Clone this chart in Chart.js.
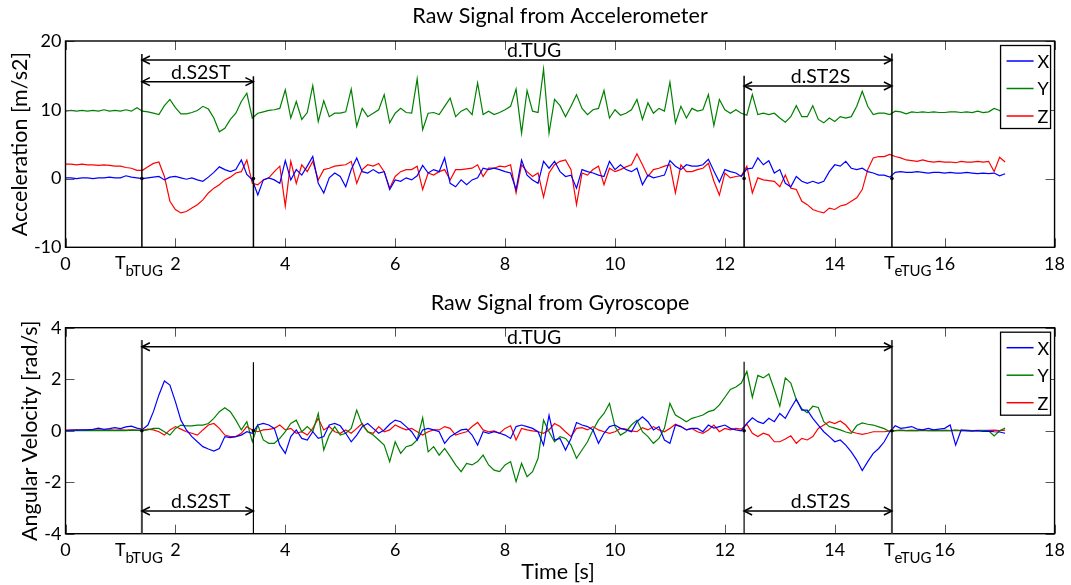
<!DOCTYPE html>
<html>
<head>
<meta charset="utf-8">
<script src="https://cdn.jsdelivr.net/npm/chart.js@4.4.1/dist/chart.umd.min.js"></script>
<style>
  html, body { margin: 0; padding: 0; background: #fff; }
  #wrap { position: relative; width: 1071px; height: 585px; }
  #accChart { position: absolute; left: 0; top: 0; }
  #gyroChart { position: absolute; left: 0; top: 290px; }
</style>
</head>
<body>
<div id="wrap">
  <canvas id="accChart" width="1071" height="290"></canvas>
  <canvas id="gyroChart" width="1071" height="295"></canvas>
</div>
<script>
var FONT = 'Lato, "DejaVu Sans", sans-serif';

// sample clock of the recordings (s)
var sampleStep = 0.1;
var axisNames = ['X', 'Y', 'Z'];
var axisColors = ['#0000ff', '#008000', '#ff0000'];

// event times (s)
var tBeginTUG = 1.39;
var tEndS2ST = 3.42;
var tStartST2S = 12.35;
var tEndTUG = 15.04;

// accelerometer [m/s2], one value per 0.1 s, rows of one second
var accX = [
  0.1, 0.1, 0.0, 0.1, 0.1, 0.0, 0.1, 0.1, 0.2, 0.1,
  0.1, 0.4, 0.2, 0.1, 0.0, 0.1, 0.2, 0.3, -0.2, 0.2,
  0.3, 0.1, -0.1, 0.1, -0.2, -0.4, 0.2, 0.9, 1.7, 1.3,
  1.0, 1.3, 2.7, 0.6, -0.2, -2.4, -0.2, 0.1, -0.2, -0.7,
  2.6, -0.2, 1.3, 0.5, 1.8, 3.2, -0.7, -2.1, 0.1, 0.8,
  0.3, -1.2, 1.3, 3.0, 1.0, 0.8, 1.3, 0.8, 1.0, -1.6,
  -0.2, -0.4, 0.1, -0.2, 0.4, 1.9, 0.8, 1.3, 1.0, 3.0,
  -0.7, -1.2, -0.2, -0.9, -0.2, 0.1, 1.5, 1.3, 1.5, 1.3,
  1.0, 0.8, -1.6, 2.7, 0.5, -0.2, -0.7, 2.5, 1.5, 2.5,
  1.0, 0.3, 0.5, -1.4, 1.3, 1.0, 0.8, 0.5, 0.3, 2.5,
  1.3, 2.0, 1.3, 1.0, 1.5, -0.9, 0.5, 0.1, 0.3, 0.5,
  2.6, 1.8, 1.3, 2.0, 1.8, 1.8, 2.0, 2.8, 1.1, -0.5,
  1.3, 1.0, 0.8, 0.3, 1.4, 1.5, 3.0, 2.0, 2.6, 0.8,
  1.3, -0.7, -1.2, 0.3, -0.4, -0.7, -0.4, -0.7, -0.4, 1.0,
  2.0, 1.8, 2.5, 1.5, 1.3, 1.5, 1.0, 0.8, 0.5, 0.5,
  0.2, 0.9, 1.0, 0.9, 0.9, 1.0, 0.9, 0.8, 0.9, 0.9,
  0.8, 0.9, 0.8, 0.8, 0.9, 0.8, 0.7, 0.8, 0.7, 0.8,
  0.4, 0.7
];
var accY = [
  9.8, 9.9, 9.8, 9.9, 9.8, 9.9, 9.8, 10.0, 9.8, 9.9,
  9.8, 10.0, 9.8, 10.3, 9.8, 9.7, 9.5, 9.3, 10.6, 11.5,
  10.3, 9.4, 9.4, 9.6, 9.9, 10.5, 10.1, 8.8, 6.8, 7.3,
  8.6, 9.5, 11.2, 12.4, 8.8, 9.5, 9.7, 9.9, 10.0, 10.2,
  12.9, 8.8, 11.2, 8.6, 9.6, 13.5, 8.3, 11.3, 9.0, 9.5,
  9.5, 9.7, 13.0, 7.6, 10.2, 9.0, 9.5, 10.0, 12.2, 8.1,
  9.5, 10.2, 9.6, 9.5, 14.5, 7.1, 9.5, 9.6, 9.3, 10.5,
  11.7, 9.0, 9.8, 10.2, 9.3, 13.9, 9.3, 9.8, 9.3, 9.6,
  10.0, 10.5, 13.0, 6.6, 12.8, 9.8, 9.6, 15.9, 6.6, 11.5,
  10.6, 9.0, 10.5, 12.2, 10.2, 9.3, 10.0, 10.2, 12.8, 8.8,
  10.0, 9.2, 9.5, 10.0, 11.5, 8.6, 11.0, 9.5, 10.2, 9.8,
  14.0, 8.1, 10.5, 8.8, 10.2, 9.8, 10.0, 12.2, 7.7, 11.5,
  10.0, 9.5, 10.0, 9.5, 9.2, 12.2, 9.3, 9.5, 9.3, 9.5,
  8.8, 8.2, 9.0, 10.6, 9.0, 9.0, 10.6, 8.6, 8.1, 8.8,
  8.3, 9.0, 8.8, 9.0, 10.5, 12.7, 10.5, 9.3, 9.5, 9.5,
  9.3, 9.8, 9.7, 9.4, 9.7, 9.6, 9.7, 9.6, 9.7, 9.6,
  9.6, 9.7, 9.7, 9.6, 9.7, 9.6, 9.8, 9.6, 9.7, 10.2,
  9.9, 9.2
];
var accZ = [
  2.1, 2.1, 2.0, 2.1, 2.0, 2.0, 1.9, 2.0, 1.9, 1.8,
  1.8, 1.6, 1.5, 1.2, 1.2, 1.7, 2.2, 2.4, 0.3, -3.3,
  -4.5, -5.0, -4.8, -4.3, -3.8, -3.1, -2.1, -1.4, -0.9, -0.2,
  0.2, 0.8, 1.0, 2.7, -0.7, -0.9, -0.2, 0.1, 1.0, 1.8,
  -4.0, 2.5, -0.7, 2.0, 1.0, 2.5, -0.2, 1.3, 1.5, 1.8,
  1.9, 2.0, 2.5, -0.7, 1.3, 2.0, 1.8, 2.2, 1.0, -1.4,
  0.3, 1.0, 1.3, 1.3, 1.8, -1.6, 0.8, 0.5, 1.0, 1.3,
  -0.2, 1.3, 1.3, 1.4, 1.5, 2.0, 0.3, 1.5, 1.5, 1.8,
  1.7, 2.0, -2.1, 2.0, 1.0, 0.3, 0.8, -2.7, 0.8, 2.0,
  2.5, 2.7, 1.3, -3.8, 0.8, 0.5, 1.3, 1.8, -0.9, 1.5,
  1.0, 1.3, 1.7, 2.0, 3.6, 2.0, 0.3, 1.3, 1.5, 1.8,
  2.0, -2.1, 2.0, 1.0, 1.0, 1.3, 1.5, 2.2, -0.4, -2.4,
  0.8, 0.1, 0.3, 0.4, 1.8, -2.1, 0.1, -0.2, -0.3, -0.4,
  -1.2, 0.5, -1.4, -1.6, -3.3, -3.8, -4.5, -4.8, -5.0, -4.3,
  -4.5, -4.0, -3.8, -3.3, -2.8, -1.6, 1.3, 3.0, 3.2, 3.2,
  3.5, 3.2, 3.0, 2.7, 2.6, 2.5, 2.7, 2.5, 2.4, 2.5,
  2.4, 2.4, 2.3, 2.5, 2.4, 2.4, 2.5, 2.4, 2.5, 1.0,
  3.1, 2.4
];

// gyroscope [rad/s], same clock
var gyroX = [
  0.0, 0.02, 0.02, 0.03, 0.03, 0.05, 0.1, 0.05, 0.08, 0.12,
  0.08, 0.15, 0.18, 0.1, 0.05, 0.22, 0.74, 1.39, 1.93, 1.77,
  1.13, 0.41, 0.03, -0.23, -0.43, -0.62, -0.71, -0.79, -0.69, -0.23,
  -0.27, -0.23, -0.17, -0.04, -0.1, 0.22, 0.28, 0.22, 0.09, -0.56,
  -0.88, -0.23, 0.03, -0.3, -0.36, -0.04, -0.3, -0.23, 0.22, 0.28,
  0.19, -0.1, -0.43, -0.17, 0.16, 0.28, 0.09, -0.1, 0.03, 0.25,
  0.41, 0.35, 0.16, -0.04, -0.36, 0.03, 0.09, 0.03, -0.04, -0.49,
  -0.23, -0.1, 0.03, 0.06, -0.17, -0.56, -0.04, -0.1, -0.04, -0.1,
  -0.17, -0.3, 0.16, 0.22, 0.16, 0.09, -0.04, -0.56, 0.6, -0.36,
  -0.3, -0.75, -0.3, 0.32, 0.22, 0.16, 0.03, -0.49, -0.1, 0.16,
  0.22, 0.09, 0.03, -0.04, 0.35, 0.54, 0.35, 0.03, 0.16, -0.36,
  -0.49, 0.22, 0.16, 0.03, 0.09, 0.09, -0.04, 0.22, 0.1, 0.16,
  0.22, 0.09, 0.03, -0.01, 0.28, 0.5, 0.35, 0.28, 0.48, 0.35,
  0.67, 0.48, 0.87, 1.22, 0.8, 0.8, 0.48, 0.22, -0.04, -0.23,
  -0.43, -0.36, -0.56, -0.82, -1.14, -1.55, -1.2, -0.88, -0.69, -0.43,
  -0.04, 0.19, 0.09, 0.12, 0.16, 0.06, 0.03, 0.09, 0.03, 0.06,
  0.09, 0.22, -0.56, 0.03, 0.0, -0.02, 0.0, -0.03, -0.02, -0.04,
  -0.05, -0.1
];
var gyroY = [
  0.0, 0.0, 0.01, 0.0, 0.01, 0.0, 0.01, 0.0, 0.01, 0.0,
  0.01, 0.0, 0.02, 0.01, 0.0, 0.03, 0.09, 0.09, -0.04, -0.17,
  0.09, 0.22, 0.19, 0.19, 0.22, 0.22, 0.28, 0.48, 0.74, 0.89,
  0.74, 0.41, 0.03, 0.35, -0.43, 0.22, -0.36, -0.49, -0.49, -0.3,
  -0.04, 0.28, 0.41, -0.04, 0.16, -0.04, 0.67, -0.75, -0.17, 0.16,
  -0.17, -0.1, 0.09, 0.8, 0.22, -0.04, -0.17, -0.36, -0.56, -1.2,
  -0.43, -0.88, -0.62, -0.56, -0.36, 0.5, -0.82, -0.62, -0.95, -0.69,
  -1.0, -1.33, -1.59, -1.27, -1.33, -1.2, -0.95, -1.33, -1.53, -1.59,
  -1.33, -1.2, -1.98, -1.27, -1.79, -1.59, -1.07, 0.41, -0.04, -0.43,
  -0.23, -0.3, -0.56, -1.07, -0.75, -0.43, 0.03, 0.41, 0.67, 1.06,
  0.16, -0.17, -0.04, 0.22, 0.41, -0.04, -0.23, -0.49, -0.3, 0.09,
  1.06, 0.61, 0.48, 0.35, 0.48, 0.54, 0.61, 0.74, 0.8, 1.0,
  1.3, 1.6, 1.7, 1.85, 2.3, 1.3, 2.15, 2.05, 2.2, 1.6,
  0.95, 2.05, 1.85, 1.2, 0.85, 0.7, 0.95, 0.9, 0.35, 0.16,
  0.1, 0.03, -0.05, -0.1, 0.2, 0.3, 0.25, 0.22, 0.15, 0.08,
  -0.04, 0.0, 0.02, 0.0, 0.01, 0.0, 0.02, 0.0, 0.01, 0.0,
  0.01, 0.0, 0.02, 0.0, 0.01, 0.0, 0.0, 0.01, 0.0, -0.2,
  0.0, 0.1
];
var gyroZ = [
  0.02, 0.02, 0.03, 0.02, 0.03, 0.02, 0.03, 0.02, 0.03, 0.02,
  0.03, 0.02, 0.03, 0.02, 0.01, 0.06, 0.03, -0.04, -0.17, 0.03,
  0.16, 0.06, -0.04, -0.1, -0.17, 0.03, 0.22, 0.28, 0.09, -0.17,
  -0.23, -0.23, -0.1, 0.16, 0.03, -0.04, 0.03, 0.05, 0.09, 0.22,
  0.03, 0.09, -0.1, -0.04, -0.17, 0.09, 0.48, 0.03, 0.16, -0.04,
  -0.1, 0.03, -0.1, 0.09, 0.28, -0.04, -0.1, 0.16, -0.04, 0.03,
  0.22, 0.12, 0.03, 0.09, -0.04, -0.17, -0.04, 0.03, 0.03, 0.16,
  0.09, -0.17, -0.1, -0.04, 0.16, 0.32, 0.03, -0.04, -0.01, -0.1,
  0.09, 0.19, -0.36, 0.09, 0.03, -0.01, -0.04, -0.1, 0.03, 0.28,
  0.16, -0.04, -0.23, 0.09, 0.12, 0.03, 0.16, 0.03, -0.04, -0.1,
  -0.04, 0.09, 0.06, -0.01, -0.04, 0.12, 0.03, 0.16, 0.03, -0.04,
  0.09, 0.25, 0.16, 0.03, 0.09, -0.04, -0.1, 0.03, 0.22, -0.04,
  0.09, 0.03, 0.09, 0.06, 0.25, -0.1, -0.23, -0.1, -0.17, -0.43,
  -0.43, -0.32, -0.2, -0.49, -0.3, -0.36, -0.23, 0.09, 0.22, 0.35,
  0.28, 0.38, 0.22, -0.04, -0.1, -0.14, -0.1, -0.04, -0.04, -0.04,
  -0.01, 0.0, 0.01, 0.0, 0.01, 0.0, 0.01, 0.0, 0.01, 0.0,
  0.01, 0.0, 0.01, 0.0, 0.01, 0.0, 0.01, 0.0, 0.01, 0.02,
  0.0, 0.02
];

function toPoints(values) {
  return values.map(function (v, i) { return { x: +(i * sampleStep).toFixed(2), y: v }; });
}

function line(ctx, x1, y1, x2, y2) {
  ctx.beginPath(); ctx.moveTo(x1, y1); ctx.lineTo(x2, y2); ctx.stroke();
}

function arrowHead(ctx, x, y, dir) {
  ctx.beginPath();
  ctx.moveTo(x - dir * 8, y - 4);
  ctx.lineTo(x, y);
  ctx.lineTo(x - dir * 8, y + 4);
  ctx.stroke();
}

// frame, inner ticks, event lines, arrows, legend and axis titles
var tugMarks = {
  id: 'tugMarks',
  afterDraw: function (chart, args, o) {
    var ctx = chart.ctx, a = chart.chartArea;
    var xs = chart.scales.x, ys = chart.scales.y;
    ctx.save();

    ctx.strokeStyle = '#555'; ctx.lineWidth = 1;
    xs.ticks.forEach(function (t) {
      var px = Math.round(xs.getPixelForValue(t.value)) + 0.5;
      line(ctx, px, a.bottom, px, a.bottom - 9);
      line(ctx, px, a.top, px, a.top + 9);
    });
    ys.ticks.forEach(function (t) {
      var py = Math.round(ys.getPixelForValue(t.value)) + 0.5;
      line(ctx, a.left, py, a.left + 9, py);
      line(ctx, a.right, py, a.right - 9, py);
    });
    ctx.strokeStyle = '#000'; ctx.lineWidth = 1.4;
    ctx.strokeRect(a.left, a.top, a.right - a.left, a.bottom - a.top);

    o.lines.forEach(function (l) {
      var px = xs.getPixelForValue(l.t);
      ctx.strokeStyle = l.color || '#000'; ctx.lineWidth = l.width || 1.5;
      line(ctx, px, ys.getPixelForValue(l.top), px, a.bottom);
    });

    ctx.strokeStyle = '#000'; ctx.fillStyle = '#000'; ctx.lineWidth = 1.5;
    ctx.font = '19.5px ' + FONT; ctx.textAlign = 'center'; ctx.textBaseline = 'alphabetic';
    o.arrows.forEach(function (ar) {
      var x1 = xs.getPixelForValue(ar.from), x2 = xs.getPixelForValue(ar.to);
      var py = ys.getPixelForValue(ar.y);
      line(ctx, x1, py, x2, py);
      arrowHead(ctx, x1, py, -1);
      arrowHead(ctx, x2, py, 1);
      ctx.fillText(ar.text, xs.getPixelForValue(ar.labelAt), py - 3);
    });

    o.dots.forEach(function (t) {
      ctx.beginPath();
      ctx.arc(xs.getPixelForValue(t), ys.getPixelForValue(0), 1.8, 0, Math.PI * 2);
      ctx.fill();
    });

    // T_bTUG / T_eTUG under the x axis
    ctx.textAlign = 'left';
    o.events.forEach(function (ev) {
      var px = xs.getPixelForValue(ev.t) + ev.dx;
      ctx.font = '18px ' + FONT;
      ctx.fillText('T', px, a.bottom + 22);
      var w = ctx.measureText('T').width;
      ctx.font = '15px ' + FONT;
      ctx.fillText(ev.sub, px + w, a.bottom + 29);
    });

    // legend box
    var bx = a.right - 54, by = a.top + 4.5, bw = 50, bh = 83;
    ctx.fillStyle = '#fff'; ctx.fillRect(bx, by, bw, bh);
    ctx.strokeStyle = '#000'; ctx.lineWidth = 1.3; ctx.strokeRect(bx, by, bw, bh);
    ctx.font = '18px ' + FONT; ctx.textBaseline = 'middle';
    chart.data.datasets.forEach(function (ds, i) {
      var ly = by + 15.5 + i * 27.5;
      ctx.strokeStyle = ds.borderColor; ctx.lineWidth = 1.5;
      line(ctx, bx + 6, ly, bx + 33, ly);
      ctx.fillStyle = '#000';
      ctx.fillText(ds.label, bx + 37, ly + 1);
    });

    // axis titles
    ctx.font = '21.5px ' + FONT; ctx.textAlign = 'center'; ctx.fillStyle = '#000';
    ctx.save();
    ctx.translate(o.yTitleX, (a.top + a.bottom) / 2);
    ctx.rotate(-Math.PI / 2);
    ctx.fillText(o.yTitle, 0, 0);
    ctx.restore();
    if (o.xTitle) ctx.fillText(o.xTitle, (a.left + a.right) / 2 - 2, a.bottom + 38);

    ctx.restore();
  }
};

function makeChart(id, cfg) {
  var datasets = cfg.series.map(function (vals, i) {
    return {
      label: axisNames[i], data: toPoints(vals),
      borderColor: axisColors[i], borderWidth: 1.2,
      pointRadius: 0, tension: 0, fill: false
    };
  });
  return new Chart(document.getElementById(id), {
    type: 'line',
    data: { datasets: datasets },
    options: {
      responsive: false, animation: false, devicePixelRatio: 1,
      layout: { padding: { left: 0, right: 15, top: 0, bottom: 0 } },
      plugins: {
        legend: { display: false },
        tooltip: { enabled: false },
        title: {
          display: true, fullSize: false, text: cfg.title, color: '#000',
          font: { family: FONT, size: 21.5, weight: 'normal' },
          padding: cfg.titlePad
        },
        tugMarks: cfg.marks
      },
      scales: {
        x: {
          type: 'linear', min: 0, max: 18,
          ticks: { stepSize: 2, color: '#000', font: { family: FONT, size: 18 }, padding: 6, maxRotation: 0 },
          grid: { display: false, drawTicks: false },
          border: { display: false },
          afterFit: function (s) { s.height = cfg.xAxisHeight; }
        },
        y: {
          min: cfg.yMin, max: cfg.yMax,
          ticks: { stepSize: cfg.yStep, color: '#000', font: { family: FONT, size: 18 }, padding: 4 },
          grid: { display: false, drawTicks: false },
          border: { display: false },
          afterFit: function (s) { s.width = 65.5; }
        }
      }
    },
    plugins: [tugMarks]
  });
}

var tugEvents = [
  { t: tBeginTUG, sub: 'bTUG', dx: -27 },
  { t: tEndTUG, sub: 'eTUG', dx: -8 }
];
var dotTimes = [tBeginTUG, tEndS2ST, tStartST2S, tEndTUG];

makeChart('accChart', {
  title: 'Raw Signal from Accelerometer',
  titlePad: { top: 3, bottom: 12.2 },
  xAxisHeight: 42.7,
  yMin: -10, yMax: 20, yStep: 10,
  series: [accX, accY, accZ],
  marks: {
    yTitle: 'Acceleration [m/s2]', yTitleX: 20,
    lines: [
      { t: tBeginTUG, top: 18.1 }, { t: tEndTUG, top: 18.2 },
      { t: tEndS2ST, top: 14.87 }, { t: tStartST2S, top: 14.96 }
    ],
    arrows: [
      { from: tBeginTUG, to: tEndTUG, y: 17.24, text: 'd.TUG', labelAt: 8.53 },
      { from: tBeginTUG, to: tEndS2ST, y: 14.09, text: 'd.S2ST', labelAt: 2.46 },
      { from: tStartST2S, to: tEndTUG, y: 13.45, text: 'd.ST2S', labelAt: 13.74 }
    ],
    dots: dotTimes,
    events: tugEvents
  }
});

makeChart('gyroChart', {
  title: 'Raw Signal from Gyroscope',
  titlePad: { top: 0.5, bottom: 11.4 },
  xAxisHeight: 51.3,
  yMin: -4, yMax: 4, yStep: 2,
  series: [gyroX, gyroY, gyroZ],
  marks: {
    yTitle: 'Angular Velocity [rad/s]', yTitleX: 30,
    xTitle: 'Time [s]',
    lines: [
      { t: tBeginTUG, top: 3.52, color: '#444', width: 2 },
      { t: tEndTUG, top: 3.52, color: '#444', width: 2 },
      { t: tEndS2ST, top: 2.66, width: 1.2 },
      { t: tStartST2S, top: 2.68, width: 1.2 }
    ],
    arrows: [
      { from: tBeginTUG, to: tEndTUG, y: 3.26, text: 'd.TUG', labelAt: 8.53 },
      { from: tBeginTUG, to: tEndS2ST, y: -3.12, text: 'd.S2ST', labelAt: 2.46 },
      { from: tStartST2S, to: tEndTUG, y: -3.12, text: 'd.ST2S', labelAt: 13.74 }
    ],
    dots: dotTimes,
    events: tugEvents
  }
});
</script>
</body>
</html>
